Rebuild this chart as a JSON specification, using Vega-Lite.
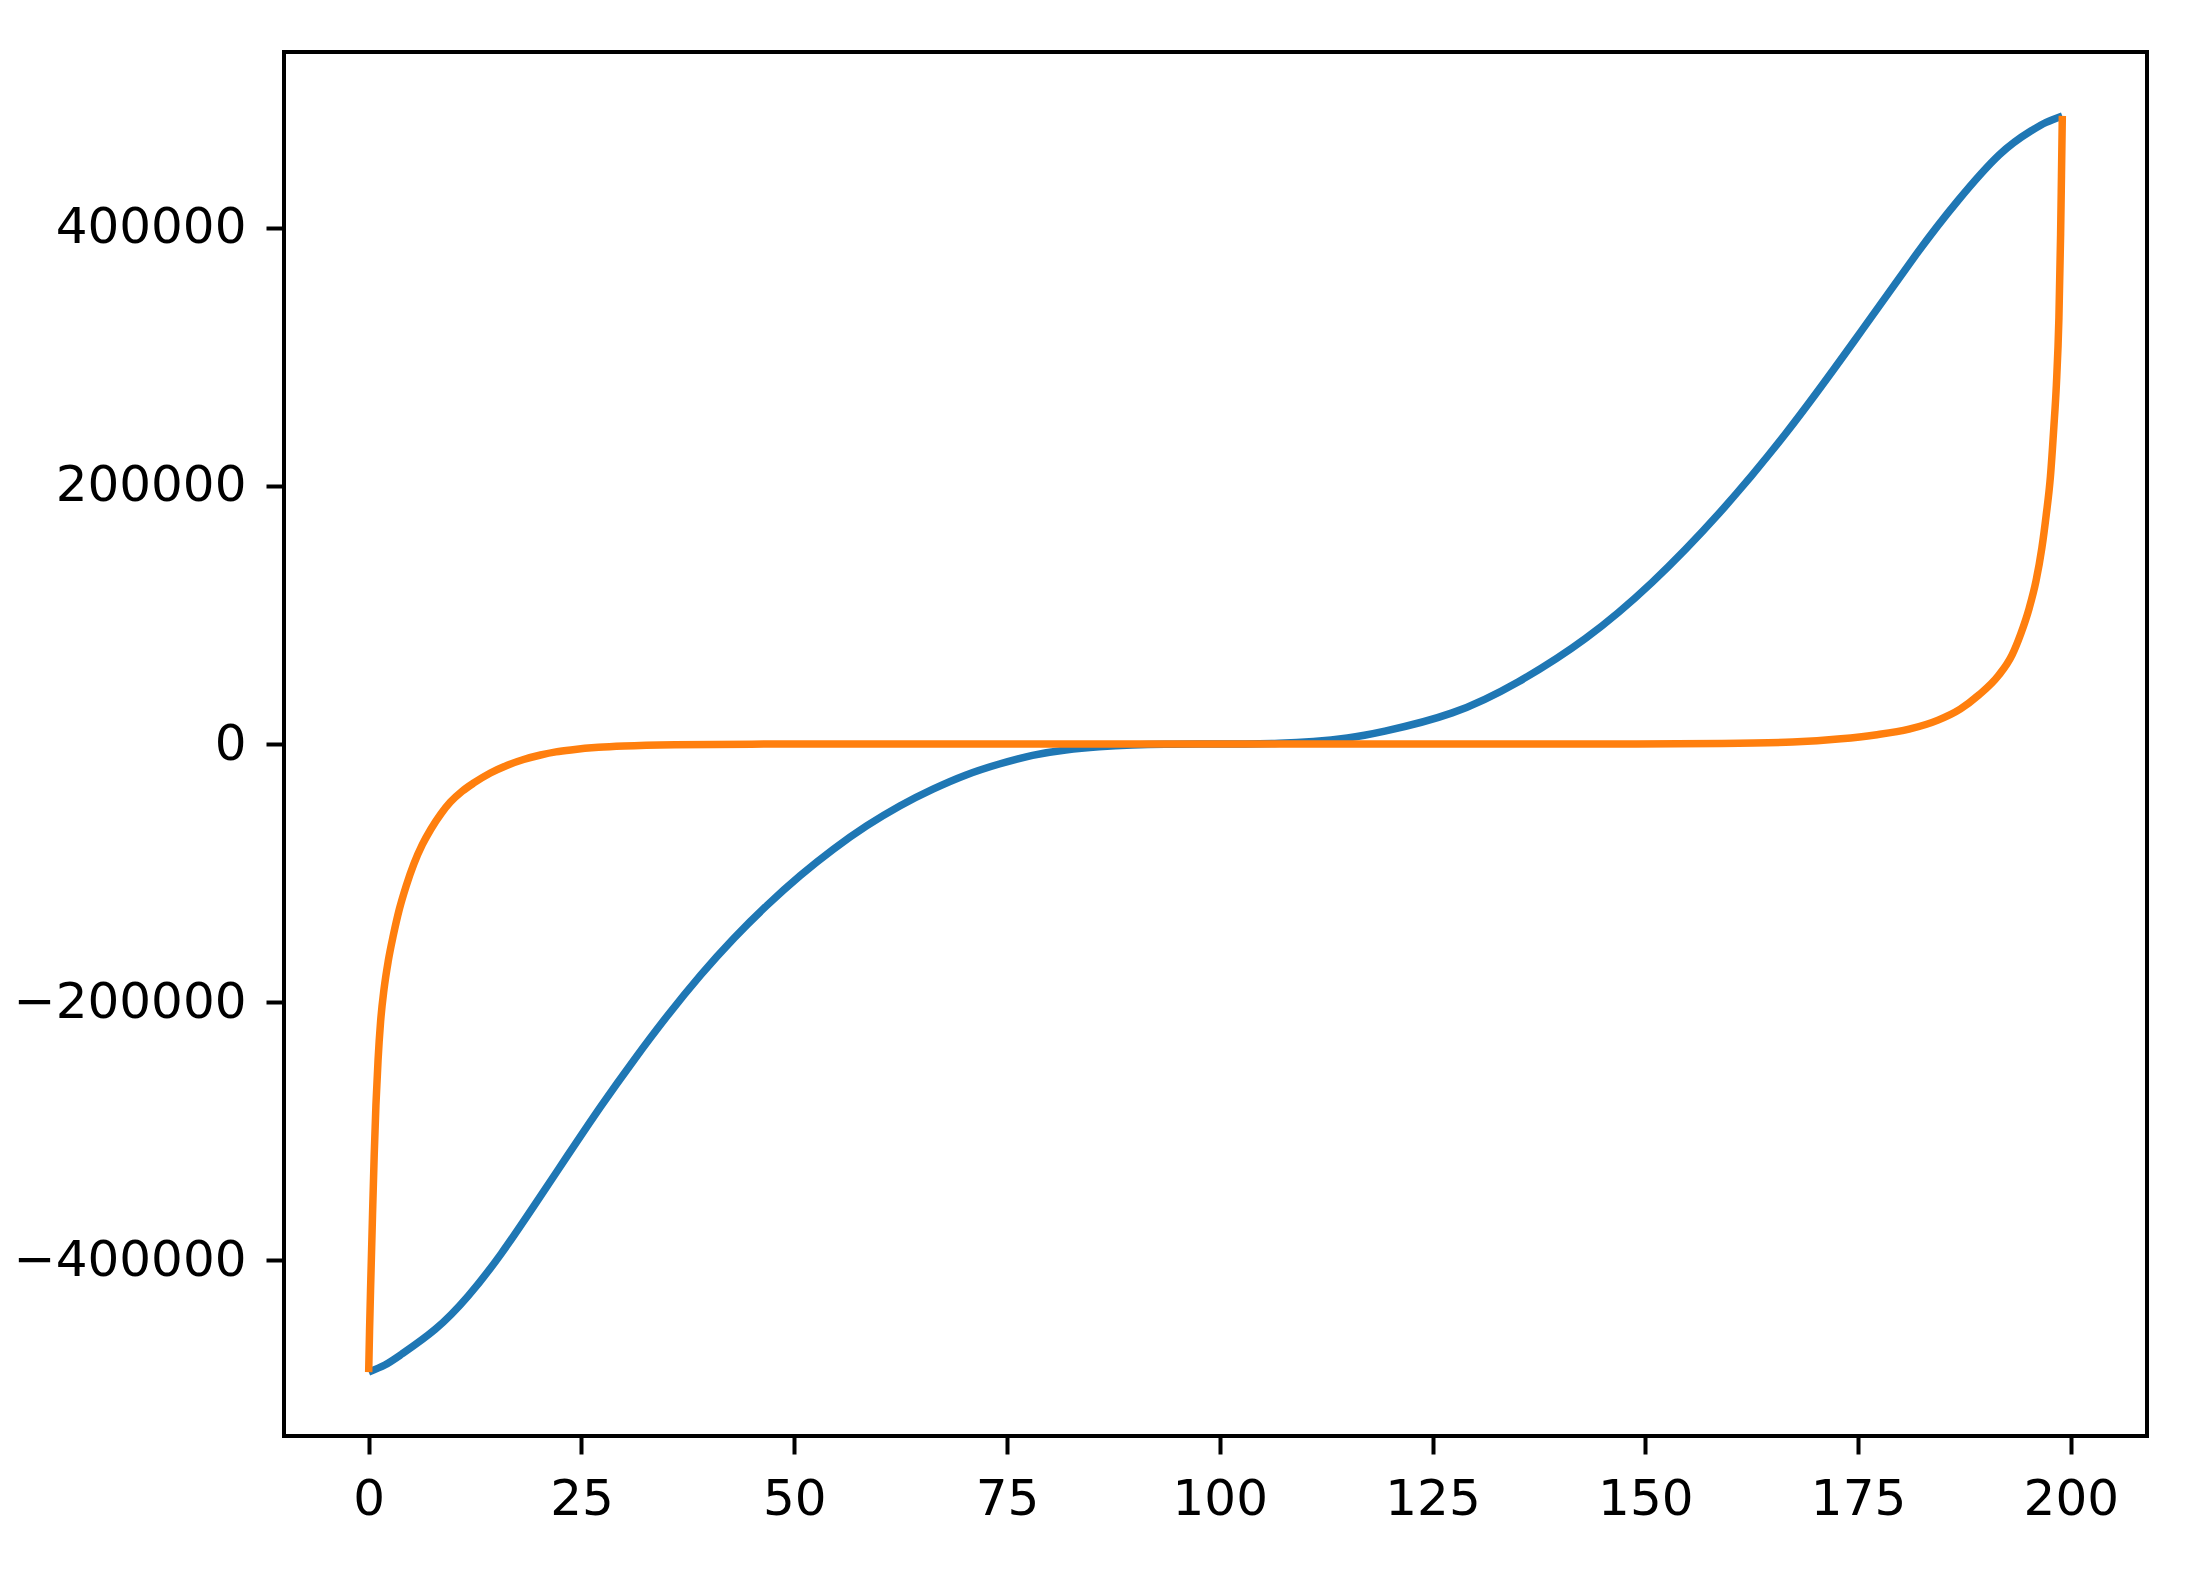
{
  "$schema": "https://vega.github.io/schema/vega-lite/v6.json",
  "autosize": {"type": "none"},
  "padding": {"left": 284, "top": 52, "right": 50, "bottom": 154},
  "width": 1863,
  "height": 1384,
  "background": "white",
  "config": {
    "view": {"stroke": "black", "strokeWidth": 4},
    "axis": {
      "grid": false,
      "domain": false,
      "tickColor": "black",
      "tickWidth": 4,
      "tickSize": 18,
      "labelFont": "DejaVu Sans",
      "labelFontSize": 50,
      "labelColor": "black",
      "labelPadding": 20,
      "labelLimit": 0,
      "title": null
    }
  },
  "datasets": {
    "blue": [
      {"x": 0, "y": -486500}, {"x": 1.9, "y": -481000}, {"x": 3.9, "y": -472500}, {"x": 7.8, "y": -453500},
      {"x": 11.7, "y": -427500}, {"x": 15.6, "y": -394500}, {"x": 19.5, "y": -357000}, {"x": 23.4, "y": -318500},
      {"x": 27.3, "y": -280500}, {"x": 31.2, "y": -244500}, {"x": 35.1, "y": -210500}, {"x": 39.0, "y": -179000},
      {"x": 42.9, "y": -150500}, {"x": 46.8, "y": -125000}, {"x": 50.7, "y": -102000}, {"x": 54.6, "y": -81500},
      {"x": 58.5, "y": -63500}, {"x": 62.4, "y": -48000}, {"x": 66.3, "y": -35000}, {"x": 70.2, "y": -24000},
      {"x": 74.1, "y": -15500}, {"x": 78.0, "y": -8800}, {"x": 81.9, "y": -4600}, {"x": 85.8, "y": -2200},
      {"x": 89.7, "y": -800}, {"x": 93.6, "y": -170}, {"x": 97.5, "y": -7}, {"x": 99.5, "y": 0},
      {"x": 101, "y": 10}, {"x": 103, "y": 80}, {"x": 107, "y": 600}, {"x": 111, "y": 2000},
      {"x": 115, "y": 4700}, {"x": 119.4, "y": 10000}, {"x": 127.3, "y": 24100}, {"x": 135.1, "y": 48300},
      {"x": 143, "y": 81900}, {"x": 150.8, "y": 125200}, {"x": 158.7, "y": 178900}, {"x": 166.5, "y": 240500},
      {"x": 174.4, "y": 310800}, {"x": 181.9, "y": 379800}, {"x": 186.7, "y": 420600}, {"x": 191.6, "y": 456400},
      {"x": 195.3, "y": 474800}, {"x": 197.1, "y": 481500}, {"x": 199, "y": 486500}
    ],
    "orange": [
      {"x": 0, "y": -486500}, {"x": 0.1, "y": -455000}, {"x": 0.25, "y": -415000}, {"x": 0.45, "y": -365000},
      {"x": 0.65, "y": -318000}, {"x": 0.85, "y": -280000}, {"x": 1.1, "y": -245000}, {"x": 1.4, "y": -215000},
      {"x": 1.8, "y": -190000}, {"x": 2.3, "y": -168000}, {"x": 2.9, "y": -148000}, {"x": 3.6, "y": -128000},
      {"x": 4.4, "y": -110000}, {"x": 5.3, "y": -93000}, {"x": 6.3, "y": -78000}, {"x": 7.3, "y": -66000},
      {"x": 8.5, "y": -54000}, {"x": 9.6, "y": -45000}, {"x": 11, "y": -36500}, {"x": 12.4, "y": -30000},
      {"x": 14.3, "y": -22500}, {"x": 16.3, "y": -16400}, {"x": 18.2, "y": -12000}, {"x": 20.2, "y": -8500},
      {"x": 22, "y": -6100}, {"x": 24, "y": -4400}, {"x": 27, "y": -2600}, {"x": 30, "y": -1500},
      {"x": 36, "y": -500}, {"x": 45, "y": -100}, {"x": 60, "y": -5}, {"x": 80, "y": 0},
      {"x": 129, "y": 0}, {"x": 149, "y": 80}, {"x": 159, "y": 400}, {"x": 167.3, "y": 1500},
      {"x": 173, "y": 4000}, {"x": 177, "y": 7000}, {"x": 181, "y": 11500}, {"x": 184.4, "y": 18500},
      {"x": 187, "y": 27000}, {"x": 189.2, "y": 38000}, {"x": 191.5, "y": 53000}, {"x": 193.1, "y": 69000},
      {"x": 194.1, "y": 85000}, {"x": 195.1, "y": 105000}, {"x": 195.9, "y": 126000}, {"x": 196.6, "y": 152000},
      {"x": 197.1, "y": 177000}, {"x": 197.6, "y": 207000}, {"x": 198, "y": 245000}, {"x": 198.3, "y": 278000},
      {"x": 198.6, "y": 330000}, {"x": 198.8, "y": 395000}, {"x": 198.9, "y": 440000}, {"x": 199, "y": 486500}
    ]
  },
  "encoding": {
    "x": {
      "field": "x", "type": "quantitative",
      "scale": {"domain": [-9.95, 208.95], "nice": false, "zero": false},
      "axis": {"values": [0, 25, 50, 75, 100, 125, 150, 175, 200], "format": "d"}
    },
    "y": {
      "field": "y", "type": "quantitative",
      "scale": {"domain": [-536000, 536000], "nice": false, "zero": false},
      "axis": {"values": [-400000, -200000, 0, 200000, 400000], "format": "d"}
    }
  },
  "layer": [
    {
      "data": {"name": "blue"},
      "mark": {"type": "line", "color": "#1f77b4", "strokeWidth": 7.5, "interpolate": "natural", "clip": true}
    },
    {
      "data": {"name": "orange"},
      "mark": {"type": "line", "color": "#ff7f0e", "strokeWidth": 7.5, "interpolate": "monotone", "clip": true}
    }
  ]
}
